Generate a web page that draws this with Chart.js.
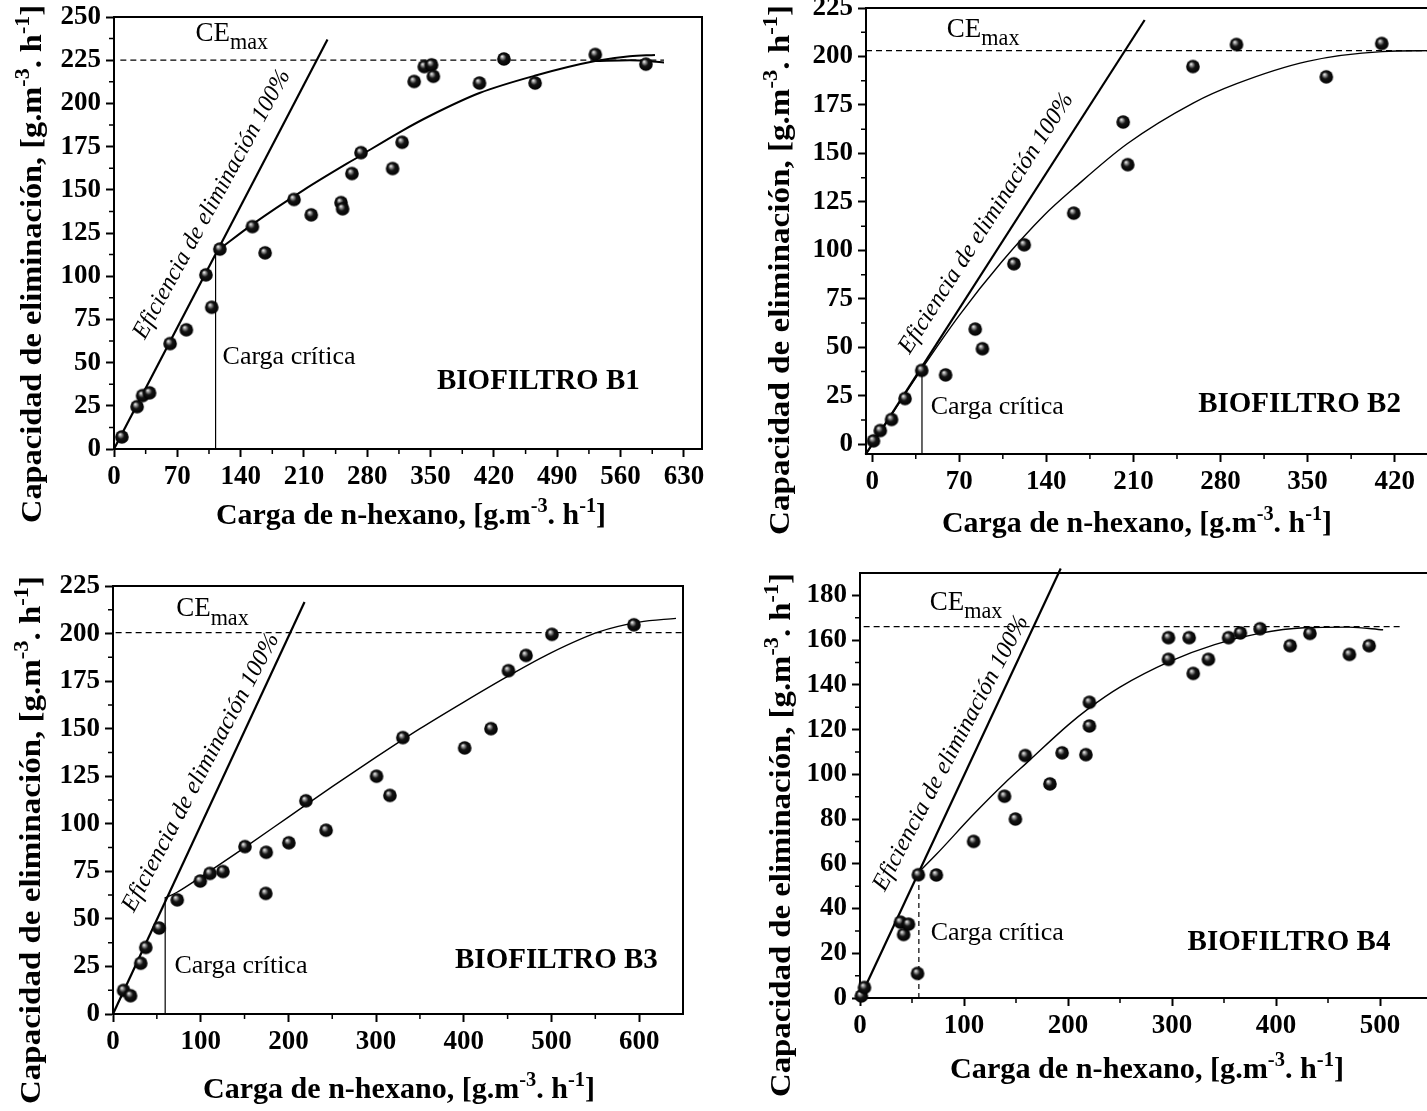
<!DOCTYPE html>
<html lang="es">
<head>
<meta charset="UTF-8">
<title>Capacidad de eliminación - Biofiltros B1-B4</title>
<script src="https://cdn.jsdelivr.net/npm/chart.js"></script>
<style>
  html, body { margin: 0; padding: 0; background: #fff; overflow: hidden; width: 1427px; height: 1111px; }
  canvas { position: absolute; }
</style>
</head>
<body>
<canvas id="b1" width="720" height="545" style="left:0;top:0"></canvas>
<canvas id="b2" width="700" height="545" style="left:740px;top:0"></canvas>
<canvas id="b3" width="720" height="566" style="left:0;top:545px"></canvas>
<canvas id="b4" width="700" height="566" style="left:740px;top:545px"></canvas>

<script>
// ---- BIOFILTRO B1 ----
const b1Load = [8.7, 25.5, 31.6, 39.3, 62, 80, 101.6, 108, 117, 153, 167, 199, 218, 251, 252.7, 263, 273, 308, 318.5, 331.8, 343, 351, 353, 404, 431, 465.5, 532, 588];
const b1Ec   = [7, 24.5, 30.9, 32.5, 61, 69, 100.8, 82, 115.7, 128.7, 113.5, 144.4, 135.5, 142.6, 139, 159.4, 171.5, 162.3, 177.5, 212.7, 221.3, 222.3, 215.7, 211.8, 225.7, 211.8, 228.3, 222.7];
const b1FitX = [115, 153, 210, 273, 318, 350, 404, 465, 532, 570, 598];
const b1FitY = [115, 130, 150, 170, 184, 193, 206, 216, 224.5, 227.3, 228];
const b1Fit2X = [532, 570, 608];
const b1Fit2Y = [224.5, 225, 223.7];
const b1EffX = [0, 236];
const b1EffY = [0, 237];
const b1CeX = [7, 608];
const b1CeY = [225, 225];
const b1CritX = [112.3, 112.3];
const b1CritY = [0, 113];
const b1XTicks = [0, 70, 140, 210, 280, 350, 420, 490, 560, 630];
const b1YTicks = [0, 25, 50, 75, 100, 125, 150, 175, 200, 225, 250];

// ---- BIOFILTRO B2 ----
const b2Load = [1, 6.5, 15.5, 26.4, 39.8, 59, 82.8, 88.6, 113.9, 122.2, 162, 201.7, 205.4, 257.8, 292.8, 365, 409.6];
const b2Ec   = [1.8, 7.1, 12.8, 23.6, 38.1, 35.8, 59.4, 49.3, 93.1, 102.9, 119.2, 166.2, 144.2, 194.8, 206.2, 189.5, 206.7];
const b2FitX = [-5, 40, 70, 104, 138, 162, 205, 258, 293, 350, 410, 450];
const b2FitY = [-5, 39, 66.5, 94, 118, 132, 155, 176, 186, 197.5, 202.5, 203];
const b2EffX = [-5.4, 219];
const b2EffY = [-5.3, 218.8];
const b2CeX = [-5, 450];
const b2CeY = [203, 203];
const b2CritX = [40, 40];
const b2CritY = [-5, 38];
const b2XTicks = [0, 70, 140, 210, 280, 350, 420];
const b2YTicks = [0, 25, 50, 75, 100, 125, 150, 175, 200, 225];

// ---- BIOFILTRO B3 ----
const b3Load = [12.1, 20, 31.6, 37.4, 52.6, 73.2, 99.5, 110.5, 125.3, 150.5, 174.7, 174.2, 200.5, 220, 243, 300.5, 315.8, 330.5, 401, 431, 451, 471, 500.5, 594];
const b3Ec   = [12.4, 9.6, 26.7, 35, 45.2, 60, 69.9, 73.9, 74.9, 88, 85, 63.4, 90, 112.1, 96.6, 125, 114.9, 145.3, 139.9, 150, 180.5, 188.5, 199.6, 204.6];
const b3FitX = [59.5, 73, 100, 150, 200, 250, 300, 350, 400, 450, 500, 555, 600, 642];
const b3FitY = [61, 64, 72, 87.5, 103.5, 119.5, 135, 150, 164, 177.5, 190, 201, 206, 208];
const b3EffX = [0, 218.4];
const b3EffY = [0, 216.6];
const b3CeX = [3, 650];
const b3CeY = [200.5, 200.5];
const b3CritX = [59.5, 59.5];
const b3CritY = [0, 61.5];
const b3XTicks = [0, 100, 200, 300, 400, 500, 600];
const b3YTicks = [0, 25, 50, 75, 100, 125, 150, 175, 200, 225];

// ---- BIOFILTRO B4 ----
const b4Load = [1.3, 4.3, 38.9, 41.9, 46.6, 56.1, 55.3, 73.4, 109.2, 139, 149.4, 158.9, 182.6, 194.3, 217.2, 220.6, 220.6, 296.6, 296.6, 316.5, 320.4, 335, 354.4, 365.7, 384.7, 413.6, 432.6, 470.6, 489.6];
const b4Ec   = [0.9, 4.7, 33.9, 28.4, 33, 55.1, 11, 55, 70, 90.2, 80, 108.4, 95.7, 109.6, 108.8, 121.6, 132.2, 161.1, 151.4, 161.1, 145.1, 151.4, 161.1, 163.2, 165.1, 157.5, 163, 153.6, 157.5];
const b4FitX = [56, 73, 109, 139, 160, 200, 220, 250, 298, 341, 384, 427, 470, 503];
const b4FitY = [56, 64, 82, 96, 105, 122, 129.5, 139, 150.5, 158, 163, 165.5, 165.8, 164.6];
const b4EffX = [0, 193];
const b4EffY = [0, 192];
const b4CeX = [3.5, 522];
const b4CeY = [166, 166];
const b4CritX = [56.6, 56.6];
const b4CritY = [0, 55];
const b4XTicks = [0, 100, 200, 300, 400, 500];
const b4YTicks = [0, 20, 40, 60, 80, 100, 120, 140, 160, 180];

const SERIF = '"Liberation Serif", "Times New Roman", serif';
const yTitle = [['Capacidad de eliminación, [g.m', 0], ['-3', 1], ['. h', 0], ['-1', 1], [']', 0]];
const xTitle = [['Carga de n-hexano, [g.m', 0], ['-3', 1], ['. h', 0], ['-1', 1], [']', 0]];

function pts(xs, ys) { return xs.map((v, i) => ({ x: v, y: ys[i] })); }

// shaded black ball marker
function ballSprite(r) {
  const c = document.createElement('canvas');
  const s = Math.ceil(r * 2 + 2);
  c.width = c.height = s;
  const g = c.getContext('2d');
  const m = s / 2;
  const grad = g.createRadialGradient(m - r * 0.3, m - r * 0.4, 0, m, m, r);
  grad.addColorStop(0, '#ffffff');
  grad.addColorStop(0.2, '#a0a0a0');
  grad.addColorStop(0.5, '#151515');
  grad.addColorStop(1, '#000000');
  g.fillStyle = grad;
  g.beginPath(); g.arc(m, m, r, 0, Math.PI * 2); g.fill();
  return c;
}
const ball = ballSprite(6.8);

function richWidth(ctx, parts, size, weight, style, small) {
  let w = 0;
  parts.forEach(([t, k]) => {
    ctx.font = `${style} ${weight} ${k ? size * small : size}px ${SERIF}`;
    w += ctx.measureText(t).width;
  });
  return w;
}
function drawRich(ctx, parts, size, weight, style, x, y, small) {
  let cx = x;
  parts.forEach(([t, k]) => {
    const fs = k ? size * small : size;
    ctx.font = `${style} ${weight} ${fs}px ${SERIF}`;
    const dy = k === 1 ? -size * 0.42 : (k === -1 ? size * 0.3 : 0);
    ctx.fillText(t, cx, y + dy);
    cx += ctx.measureText(t).width;
  });
}
// centred rich text, stretched to a target length, optional rotation
function drawTitle(ctx, parts, cx, cy, len, rot) {
  const size = 30;
  const w = richWidth(ctx, parts, size, 'bold', 'normal', 0.68);
  ctx.save();
  ctx.translate(cx, cy);
  if (rot) ctx.rotate(-Math.PI / 2);
  ctx.scale(len / w, 1);
  ctx.textAlign = 'left';
  ctx.textBaseline = 'alphabetic';
  drawRich(ctx, parts, size, 'bold', 'normal', -w / 2, size * 0.34, 0.68);
  ctx.restore();
}

const decor = {
  id: 'decor',
  afterDraw(chart, args, o) {
    const { ctx, chartArea: a, scales: { x, y } } = chart;
    ctx.save();
    ctx.fillStyle = '#000';
    ctx.strokeStyle = '#000';
    // minor ticks
    ctx.lineWidth = 1.5;
    ctx.beginPath();
    const xt = o.xTicks, yt = o.yTicks;
    for (let i = 0; i < xt.length; i++) {
      const v = i < xt.length - 1 ? (xt[i] + xt[i + 1]) / 2 : xt[i] + (xt[1] - xt[0]) / 2;
      if (v >= x.max) continue;
      const px = x.getPixelForValue(v);
      ctx.moveTo(px, a.bottom); ctx.lineTo(px, a.bottom + 5);
    }
    for (let i = 0; i < yt.length; i++) {
      const v = i < yt.length - 1 ? (yt[i] + yt[i + 1]) / 2 : yt[i] + (yt[1] - yt[0]) / 2;
      if (v >= y.max) continue;
      const py = y.getPixelForValue(v);
      ctx.moveTo(a.left, py); ctx.lineTo(a.left - 5, py);
    }
    ctx.stroke();
    // top and right frame
    ctx.lineWidth = 2;
    ctx.beginPath();
    ctx.moveTo(a.left, a.top); ctx.lineTo(a.right, a.top); ctx.lineTo(a.right, a.bottom);
    ctx.stroke();

    ctx.textAlign = 'left';
    ctx.textBaseline = 'alphabetic';
    // CEmax
    drawRich(ctx, [['CE', 0], ['max', -1]], 27, 'normal', 'normal',
      x.getPixelForValue(o.ce[0]), y.getPixelForValue(o.ce[1]), 0.82);
    // Carga crítica
    ctx.font = `normal 26px ${SERIF}`;
    ctx.fillText('Carga crítica', x.getPixelForValue(o.crit[0]), y.getPixelForValue(o.crit[1]));
    // BIOFILTRO
    ctx.font = `bold 29px ${SERIF}`;
    ctx.fillText(o.name, x.getPixelForValue(o.bio[0]), y.getPixelForValue(o.bio[1]));
    // Eficiencia de eliminación 100%
    const p0x = x.getPixelForValue(o.eff[0]), p0y = y.getPixelForValue(o.eff[1]);
    const p1x = x.getPixelForValue(o.eff[2]), p1y = y.getPixelForValue(o.eff[3]);
    const ang = Math.atan2(p1y - p0y, p1x - p0x);
    const dist = Math.hypot(p1x - p0x, p1y - p0y);
    ctx.font = `italic normal 24px ${SERIF}`;
    const t = 'Eficiencia de eliminación 100%';
    const tw = ctx.measureText(t).width;
    ctx.save();
    ctx.translate(p0x, p0y);
    ctx.rotate(ang);
    ctx.scale(dist / tw, 1);
    ctx.fillText(t, 0, 0);
    ctx.restore();

    // axis titles (canvas coordinates)
    drawTitle(ctx, xTitle, o.xt[0], o.xt[1], o.xt[2], false);
    drawTitle(ctx, yTitle, o.yt[0], o.yt[1], o.yt[2], true);
    ctx.restore();
  }
};

function makeChart(p) {
  const cv = document.getElementById(p.id);
  const W = cv.width, H = cv.height;
  const tickFont = { family: SERIF, size: 27, weight: 'bold' };
  const line = (xs, ys, w, extra) => Object.assign({
    data: pts(xs, ys), showLine: true, pointRadius: 0, borderColor: '#000',
    borderWidth: w, fill: false
  }, extra || {});
  return new Chart(cv, {
    type: 'scatter',
    data: {
      datasets: [
        { data: pts(p.load, p.ec), pointStyle: ball, pointRadius: 7, showLine: false, clip: false },
        line(p.fit[0], p.fit[1], p.fitW, { cubicInterpolationMode: 'monotone' }),
        ...(p.fit2 ? [line(p.fit2[0], p.fit2[1], p.fitW, { cubicInterpolationMode: 'monotone' })] : []),
        line(p.eff[0], p.eff[1], 2.2, { clip: false }),
        line(p.ceLine[0], p.ceLine[1], 1.2, { borderDash: [6, 4] }),
        line(p.critLine[0], p.critLine[1], 1.2, p.critDash ? { borderDash: [5, 4] } : {})
      ]
    },
    options: {
      responsive: false,
      animation: false,
      events: [],
      layout: { padding: { top: p.area.top, right: W - p.area.right, left: 0, bottom: 0 } },
      plugins: {
        legend: { display: false },
        tooltip: { enabled: false },
        decor: {
          xTicks: p.xTicks, yTicks: p.yTicks, name: p.name,
          ce: p.ceText, crit: p.critText, bio: p.bioText, eff: p.effText,
          xt: p.xTitlePos, yt: p.yTitlePos
        }
      },
      scales: {
        x: {
          type: 'linear', min: p.xRange[0], max: p.xRange[1],
          afterBuildTicks: s => { s.ticks = p.xTicks.map(v => ({ value: v })); },
          afterFit: s => { s.height = H - p.area.bottom; s.paddingLeft = 0; s.paddingRight = 0; },
          ticks: { font: tickFont, color: '#000', padding: 4, maxRotation: 0, autoSkip: false },
          grid: { drawOnChartArea: false, drawTicks: true, tickLength: 8, tickWidth: 2, tickColor: '#000' },
          border: { display: true, color: '#000', width: 2 }
        },
        y: {
          type: 'linear', min: p.yRange[0], max: p.yRange[1],
          afterBuildTicks: s => { s.ticks = p.yTicks.map(v => ({ value: v })); },
          afterFit: s => { s.width = p.area.left; s.paddingTop = 0; s.paddingBottom = 0; },
          ticks: { font: tickFont, color: '#000', padding: 5, autoSkip: false },
          grid: { drawOnChartArea: false, drawTicks: true, tickLength: 8, tickWidth: 2, tickColor: '#000' },
          border: { display: true, color: '#000', width: 2 }
        }
      }
    },
    plugins: [decor]
  });
}

makeChart({
  id: 'b1', name: 'BIOFILTRO B1',
  load: b1Load, ec: b1Ec, fit: [b1FitX, b1FitY], fit2: [b1Fit2X, b1Fit2Y], fitW: 2,
  eff: [b1EffX, b1EffY], ceLine: [b1CeX, b1CeY], critLine: [b1CritX, b1CritY], critDash: false,
  xTicks: b1XTicks, yTicks: b1YTicks, xRange: [0, 650], yRange: [0, 250],
  area: { left: 114, top: 17, right: 702, bottom: 449 },
  ceText: [90, 236], critText: [120, 49], bioText: [357, 35], effText: [34, 63, 195, 216.7],
  xTitlePos: [411, 514, 390], yTitlePos: [31, 264, 518]
});
makeChart({
  id: 'b2', name: 'BIOFILTRO B2',
  load: b2Load, ec: b2Ec, fit: [b2FitX, b2FitY], fitW: 1.4,
  eff: [b2EffX, b2EffY], ceLine: [b2CeX, b2CeY], critLine: [b2CritX, b2CritY], critDash: false,
  xTicks: b2XTicks, yTicks: b2YTicks, xRange: [-5, 450], yRange: [-5, 225],
  area: { left: 126, top: 7, right: 692, bottom: 454 },
  ceText: [60, 210], critText: [47, 15.5], bioText: [262, 16.5], effText: [30, 46, 162, 178.3],
  xTitlePos: [397, 522, 390], yTitlePos: [39, 270, 530]
});
makeChart({
  id: 'b3', name: 'BIOFILTRO B3',
  load: b3Load, ec: b3Ec, fit: [b3FitX, b3FitY], fitW: 1.4,
  eff: [b3EffX, b3EffY], ceLine: [b3CeX, b3CeY], critLine: [b3CritX, b3CritY], critDash: false,
  xTicks: b3XTicks, yTicks: b3YTicks, xRange: [0, 650], yRange: [0, 225],
  area: { left: 113, top: 41, right: 683, bottom: 469 },
  ceText: [72, 209], critText: [70, 21.5], bioText: [390, 24.3], effText: [23.7, 53, 189.5, 197.7],
  xTitlePos: [399, 543, 392], yTitlePos: [30, 295, 528]
});
makeChart({
  id: 'b4', name: 'BIOFILTRO B4',
  load: b4Load, ec: b4Ec, fit: [b4FitX, b4FitY], fitW: 1.4,
  eff: [b4EffX, b4EffY], ceLine: [b4CeX, b4CeY], critLine: [b4CritX, b4CritY], critDash: true,
  xTicks: b4XTicks, yTicks: b4YTicks, xRange: [0, 550], yRange: [0, 190],
  area: { left: 120, top: 28, right: 694, bottom: 453 },
  ceText: [67, 173.5], critText: [68, 26], bioText: [315, 21.3], effText: [23.7, 47.3, 162, 169],
  xTitlePos: [407, 523, 394], yTitlePos: [40, 290, 524]
});
</script>
</body>
</html>
